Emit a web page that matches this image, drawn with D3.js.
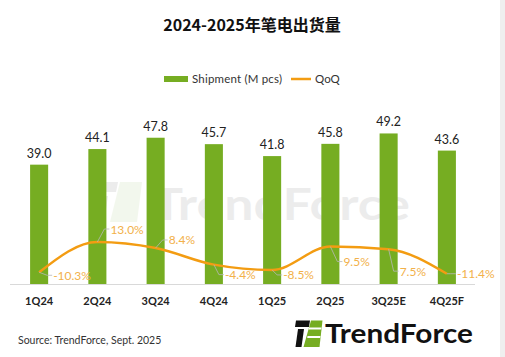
<!DOCTYPE html>
<html><head><meta charset="utf-8">
<script src="https://cdn.jsdelivr.net/npm/d3@7"></script>
<style>body{margin:0;background:#fff}svg{display:block}text{font-family:Lato,"Noto Sans",sans-serif}</style>
</head><body><svg id="c" width="505" height="357"></svg>
<script>
const categories = ["1Q24","2Q24","3Q24","4Q24","1Q25","2Q25","3Q25E","4Q25F"];
const shipment = [39.0,44.1,47.8,45.7,41.8,45.8,49.2,43.6];
const qoq = [-10.3,13.0,8.4,-4.4,-8.5,9.5,7.5,-11.4];
const qoqLabels = ["-10.3%","13.0%","8.4%","-4.4%","-8.5%","9.5%","7.5%","-11.4%"];

const svg = d3.select("#c");
const green = "#76AD22", orange = "#F39C12", lblOrange = "#F2B14A";
svg.append("rect").attr("x",500).attr("y",0).attr("width",5).attr("height",357).attr("fill","#efefef");

// title
svg.append("text").attr("x",252).attr("y",31).attr("text-anchor","middle")
  .attr("font-size",16).attr("font-weight","bold").attr("fill","#111")
  .style("font-family","'Noto Sans CJK SC',Lato,sans-serif")
  .text("2024-2025年笔电出货量");

// legend
svg.append("rect").attr("x",164).attr("y",76).attr("width",24).attr("height",6).attr("fill",green);
svg.append("text").attr("x",192).attr("y",83).attr("font-size",11.5).attr("fill","#333")
  .attr("textLength",90).attr("lengthAdjust","spacing").text("Shipment (M pcs)");
svg.append("line").attr("x1",291).attr("x2",311).attr("y1",79).attr("y2",79).attr("stroke",orange).attr("stroke-width",2.5);
svg.append("text").attr("x",315).attr("y",83).attr("font-size",11.5).attr("fill","#333").text("QoQ");

// watermark
const wm = svg.append("g").attr("opacity",0.07);
wm.append("path").attr("d","M95,182 L118,182 L116,192 L95,192 Z").attr("fill","#000");
wm.append("path").attr("d","M98,196 L108,196 L104,222 L95,222 Z").attr("fill","#000");
wm.append("path").attr("d","M120,182 L142,182 L137,222 L110,222 Z").attr("fill","#5a9a10");
wm.append("text").attr("x",152).attr("y",220).attr("font-size",44).attr("font-weight","bold")
  .attr("textLength",258).attr("lengthAdjust","spacingAndGlyphs").attr("fill","#000").text("TrendForce");

const x = d3.scaleBand().domain(categories).range([10,476]).paddingInner(0.69).paddingOuter(0.345);
const y = d3.scaleLinear().domain([0,50]).range([284,131]);
const y2 = d3.scaleLinear().domain([-20,20]).range([284.9,232.9]);

// baseline
svg.append("line").attr("x1",10).attr("x2",475).attr("y1",284.5).attr("y2",284.5).attr("stroke","#d9d9d9").attr("stroke-width",1);

svg.append("g").selectAll("rect").data(shipment).join("rect")
  .attr("x",(d,i)=>x(categories[i])).attr("width",x.bandwidth())
  .attr("y",d=>y(d)).attr("height",d=>y(0)-y(d)).attr("fill",green);

svg.append("g").selectAll("text").data(shipment).join("text")
  .attr("x",(d,i)=>x(categories[i])+x.bandwidth()/2).attr("y",d=>y(d)-7)
  .attr("text-anchor","middle").attr("font-size",12.5).attr("fill","#222")
  .text(d=>d.toFixed(1));

// x axis labels
const xa = svg.append("g").attr("transform","translate(0,284)")
  .call(d3.axisBottom(x).tickSize(0).tickPadding(13));
xa.select(".domain").remove();
xa.selectAll("text").attr("font-size",11).attr("font-weight","bold").attr("fill","#222")
  .style("font-family","Lato,sans-serif");

// QoQ line
const cx = i => x(categories[i])+x.bandwidth()/2;
svg.append("path").datum(qoq)
  .attr("d",d3.line().x((d,i)=>cx(i)).y(d=>y2(d)).curve(d3.curveMonotoneX))
  .attr("fill","none").attr("stroke",orange).attr("stroke-width",2.5);

// QoQ labels with leaders: offsets dx, dy of label anchor relative to point
const off = [[14,3],[13,-13],[13,-8],[11,10],[11,5],[13,15],[11,22],[10,0]];
const lg = svg.append("g");
qoq.forEach((v,i)=>{
  const px = cx(i), py = y2(v);
  const lx = px+off[i][0], ly = py+off[i][1];
  lg.append("path").attr("d",`M${px},${py} L${lx-6},${ly} L${lx-1},${ly}`)
    .attr("fill","none").attr("stroke","#b8b8b8").attr("stroke-width",0.8);
  lg.append("text").attr("x",lx).attr("y",ly+4.5).attr("font-size",12).attr("fill",lblOrange).text(qoqLabels[i]);
});

// source
svg.append("text").attr("x",18).attr("y",344).attr("font-size",10.5).attr("fill","#333").text("Source: TrendForce, Sept. 2025");

// logo
const lo = svg.append("g");
lo.append("path").attr("d","M296,320.5 L310,320.5 L309,327 L295,327 Z").attr("fill","#111");
lo.append("path").attr("d","M298,329 L304,329 L301.5,347 L295.5,347 Z").attr("fill","#111");
lo.append("path").attr("d","M311,320.5 L322.5,320.5 L319.5,347 L303.5,347 Z").attr("fill",green);
lo.append("path").attr("d","M309,327.5 L321.5,327.5 L321.2,329.5 L308.7,329.5 Z M307.5,336 L320.5,336 L320.2,338 L307.2,338 Z").attr("fill","#fff");
lo.append("text").attr("x",325).attr("y",343).attr("font-size",27).attr("font-weight","bold")
  .attr("textLength",148).attr("lengthAdjust","spacingAndGlyphs").attr("fill","#111").text("TrendForce");
</script></body></html>
